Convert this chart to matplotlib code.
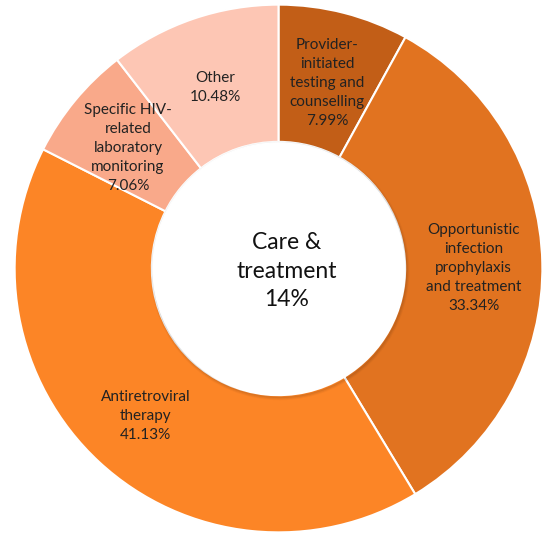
import numpy as np
import matplotlib.pyplot as plt
from matplotlib.patches import Circle

labels = ["Provider-\ninitiated\ntesting and\ncounselling",
          "Opportunistic\ninfection\nprophylaxis\nand treatment",
          "Antiretroviral\ntherapy",
          "Specific HIV-\nrelated\nlaboratory\nmonitoring",
          "Other"]
shares = [7.99, 33.34, 41.13, 7.06, 10.48]
colors = ["#c25e17", "#e17320", "#fc8526", "#f9a98a", "#fdc6b4"]
center_text = "Care &\ntreatment\n14%"

plt.rcParams['font.family'] = ['Lato', 'DejaVu Sans']

fig = plt.figure(figsize=(5.5, 5.35), dpi=100)
W, H = 550, 535
cx, cy, r = 278.5, 268.5, 266.5
ax = fig.add_axes([(cx - r) / W, (H - cy - r) / H, 2 * r / W, 2 * r / H])

inner = 0.48
wedges, _ = ax.pie(shares, colors=colors, startangle=90, counterclock=False,
                   radius=1.0,
                   wedgeprops=dict(width=1 - inner, edgecolor="white", linewidth=1.5))

# soft shadow along the hole edge
for k, a in enumerate([0.10, 0.06, 0.03]):
    ax.add_patch(Circle((0.005, -0.008), inner + 0.004 * k, fill=False,
                        edgecolor="black", alpha=a, linewidth=1.2, zorder=3))
ax.add_patch(Circle((0, 0), inner - 0.004, color="white", zorder=4))

start = 90.0
for lab, val in zip(labels, shares):
    span = val * 3.6
    mid = np.deg2rad(start - span / 2)
    start -= span
    ax.text(0.74 * np.cos(mid), 0.74 * np.sin(mid) - 0.015, f"{lab}\n{val:.2f}%",
            ha="center", va="center", fontsize=11, color="#222222",
            linespacing=1.45, zorder=5)

ax.text(0.03, -0.01, center_text, ha="center", va="center", fontsize=16.5,
        color="#111111", linespacing=1.45, zorder=5)

ax.set_xlim(-1.01, 1.01)
ax.set_ylim(-1.01, 1.01)
ax.set_aspect("equal")
ax.axis("off")

fig.savefig("out.png", dpi=100)
